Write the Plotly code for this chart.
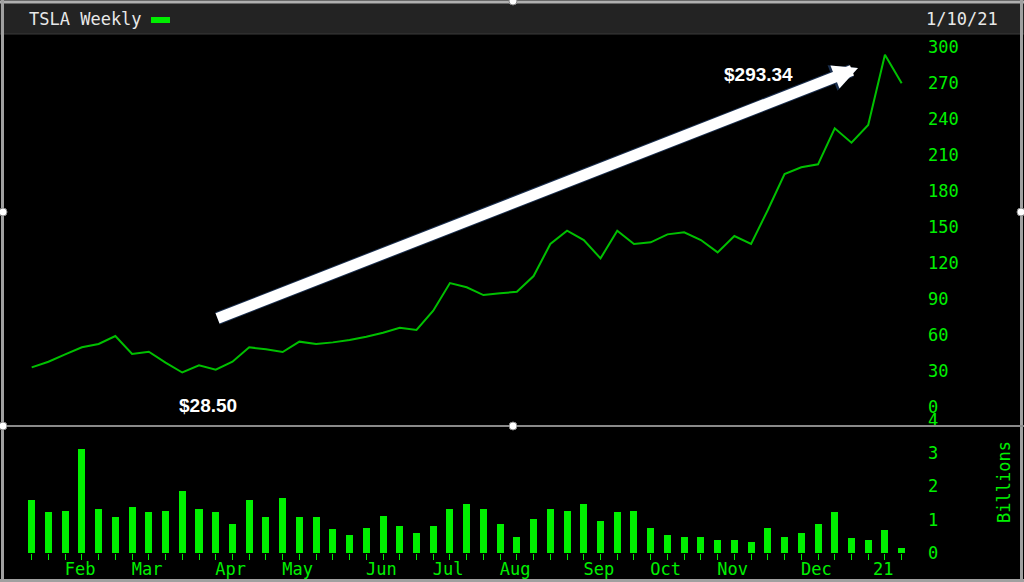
import plotly.graph_objects as go

# ---------------- data ----------------
week_no = list(range(53))  # weekly bars, Jan 2020 -> Jan 2021
price = [32.8, 37.5, 43.6, 49.5, 52.3, 58.9, 43.9, 45.8, 36.7, 28.5,
         34.5, 30.8, 37.5, 49.5, 47.8, 45.6, 54.2, 52.3, 53.6, 55.6,
         58.3, 61.7, 65.8, 63.9, 80.0, 103.0, 99.5, 93.0, 94.5, 95.8,
         108.9, 135.6, 146.7, 138.9, 123.6, 146.7, 135.6, 137.0, 143.6, 145.3,
         138.9, 128.6, 142.2, 135.6, 163.9, 193.9, 199.5, 202.0, 232.0, 220.0,
         234.8, 293.34, 269.5]
volume_bn = [1.58, 1.22, 1.27, 3.14, 1.32, 1.07, 1.37, 1.22, 1.27, 1.85,
             1.32, 1.22, 0.86, 1.58, 1.07, 1.64, 1.07, 1.07, 0.71, 0.55,
             0.76, 1.11, 0.81, 0.60, 0.81, 1.32, 1.47, 1.32, 0.86, 0.49,
             1.02, 1.32, 1.27, 1.47, 0.96, 1.22, 1.27, 0.76, 0.55, 0.49,
             0.49, 0.39, 0.39, 0.33, 0.76, 0.49, 0.60, 0.86, 1.22, 0.44,
             0.39, 0.70, 0.14]
month_labels = ["Feb", "Mar", "Apr", "May", "Jun", "Jul", "Aug", "Sep", "Oct", "Nov", "Dec", "21"]
month_week = [2, 6, 11, 15, 20, 24, 28, 33, 37, 41, 46, 50]
price_ticks = [0, 30, 60, 90, 120, 150, 180, 210, 240, 270, 300]
volume_ticks = [0, 1, 2, 3, 4]
title_text = "TSLA Weekly"
date_text = "1/10/21"
low_label = "$28.50"
high_label = "$293.34"

# ---------------- layout geometry ----------------
W, H = 1024, 582
GREEN = "#00f000"
LINE_GREEN = "#00c000"
MONO = "DejaVu Sans Mono"

def px(xp):
    return xp / W

def py(yp):
    return 1 - yp / H

# x mapping: week 0 at 31.7px, 16.73 px per week
X0, DX = 31.7, 16.73
L, R = 5, 915
xr = [(L - X0) / DX, (R - X0) / DX]

# price mapping: 0 at 406.7px, 1.2 px per dollar
P0, DP = 406.7, 1.2
PT, PB = 35, 420
pr = [(P0 - PB) / DP, (P0 - PT) / DP]

fig = go.Figure()
fig.add_trace(go.Scatter(x=week_no, y=price, mode="lines",
                         line=dict(color=LINE_GREEN, width=2),
                         xaxis="x", yaxis="y", showlegend=False, hoverinfo="skip"))
fig.add_trace(go.Bar(x=week_no, y=volume_bn, marker=dict(color=GREEN, line=dict(width=0)),
                     width=0.42, xaxis="x2", yaxis="y2", showlegend=False, hoverinfo="skip"))

tickfont = dict(family=MONO, size=17, color=GREEN)
common = dict(showgrid=False, zeroline=False, showline=False, automargin=False)

fig.update_layout(
    width=W, height=H, autosize=False,
    margin=dict(l=0, r=0, t=0, b=0, pad=0),
    paper_bgcolor="black", plot_bgcolor="black",
    bargap=0,
    xaxis=dict(domain=[px(L), px(R)], range=xr, anchor="y", showticklabels=False,
               ticks="", matches="x2", **common),
    yaxis=dict(domain=[py(PB), py(PT)], range=pr, side="right", anchor="x",
               tickmode="array", tickvals=price_ticks, ticktext=[str(v) for v in price_ticks],
               tickfont=tickfont, ticks="", ticklabelstandoff=12, **common),
    xaxis2=dict(domain=[px(L), px(R)], range=xr, anchor="y2",
                tickmode="array", tickvals=month_week, ticktext=month_labels,
                tickfont=tickfont, ticks="", ticklabelshift=15, ticklabelstandoff=4,
                minor=dict(tickmode="array", tickvals=week_no, ticks="outside",
                           ticklen=6, tickwidth=1, tickcolor=GREEN, showgrid=False),
                **common),
    yaxis2=dict(domain=[py(553), py(420)], range=[0, 4], side="right", anchor="x2",
                tickmode="array", tickvals=volume_ticks, ticktext=[str(v) for v in volume_ticks],
                tickfont=tickfont, ticks="", ticklabelstandoff=12, **common),
)

shapes = []
# header bar
shapes.append(dict(type="rect", xref="paper", yref="paper", x0=0, x1=1, y0=py(34), y1=1,
                   fillcolor="#232323", line=dict(width=0), layer="below"))
shapes.append(dict(type="line", xref="paper", yref="paper", x0=0, x1=1, y0=py(34), y1=py(34),
                   line=dict(color="#3a3a3a", width=1)))
# outer frame
shapes.append(dict(type="line", xref="paper", yref="paper", x0=0, x1=1, y0=py(2), y1=py(2),
                   line=dict(color="#b0b0b0", width=3)))
shapes.append(dict(type="line", xref="paper", yref="paper", x0=px(2.5), x1=px(2.5), y0=0, y1=1,
                   line=dict(color="#a0a0a0", width=3)))
shapes.append(dict(type="line", xref="paper", yref="paper", x0=px(1021.5), x1=px(1021.5), y0=0, y1=1,
                   line=dict(color="#a0a0a0", width=3)))
shapes.append(dict(type="line", xref="paper", yref="paper", x0=0, x1=1, y0=py(580.5), y1=py(580.5),
                   line=dict(color="#a0a0a0", width=3)))
# panel separator
shapes.append(dict(type="line", xref="paper", yref="paper", x0=0, x1=1, y0=py(426), y1=py(426),
                   line=dict(color="#8a8a8a", width=2)))
# legend swatch
shapes.append(dict(type="rect", xref="paper", yref="paper", x0=px(151), x1=px(170), y0=py(23), y1=py(17),
                   fillcolor="#00ee00", line=dict(width=0)))
# selection handles
for hx, hy in [(3, 426), (513, 426), (3, 212), (1021, 212), (513, 1)]:
    shapes.append(dict(type="circle", xref="paper", yref="paper",
                       x0=px(hx - 4), x1=px(hx + 4), y0=py(hy + 4), y1=py(hy - 4),
                       fillcolor="white", line=dict(color="#888", width=1)))
fig.update_layout(shapes=shapes)

ann = []
ann.append(dict(xref="paper", yref="paper", x=px(27), y=py(19), xanchor="left", yanchor="middle",
                text=title_text, showarrow=False, font=dict(family=MONO, size=17, color="#e8e8e8")))
ann.append(dict(xref="paper", yref="paper", x=px(1000), y=py(19), xanchor="right", yanchor="middle",
                text=date_text, showarrow=False, font=dict(family=MONO, size=17, color="#e8e8e8")))
ann.append(dict(xref="paper", yref="paper", x=px(1004), y=py(482), xanchor="center", yanchor="middle",
                text="Billions", textangle=-90, showarrow=False, font=dict(family=MONO, size=17, color=GREEN)))
# arrow outline + arrow
for col, wdt, asz in [("#1b3050", 13, 0.42), ("white", 11, 0.45)]:
    ann.append(dict(xref="paper", yref="paper", x=px(858), y=py(68),
                    axref="pixel", ayref="pixel", ax=216 - 858, ay=319 - 68,
                    text="", showarrow=True, arrowhead=2, arrowsize=asz,
                    arrowwidth=wdt, arrowcolor=col))
ann.append(dict(xref="paper", yref="paper", x=px(758), y=py(74), xanchor="center", yanchor="middle",
                text="<b>%s</b>" % high_label, showarrow=False,
                font=dict(family="Liberation Sans, Arial", size=19, color="white")))
ann.append(dict(xref="paper", yref="paper", x=px(208), y=py(405), xanchor="center", yanchor="middle",
                text="<b>%s</b>" % low_label, showarrow=False,
                font=dict(family="Liberation Sans, Arial", size=19, color="white")))
fig.update_layout(annotations=ann)

fig.write_html("out.html", config={"responsive": False, "displayModeBar": False},
               post_script="document.body.style.margin='0';document.documentElement.style.overflow='hidden';")
